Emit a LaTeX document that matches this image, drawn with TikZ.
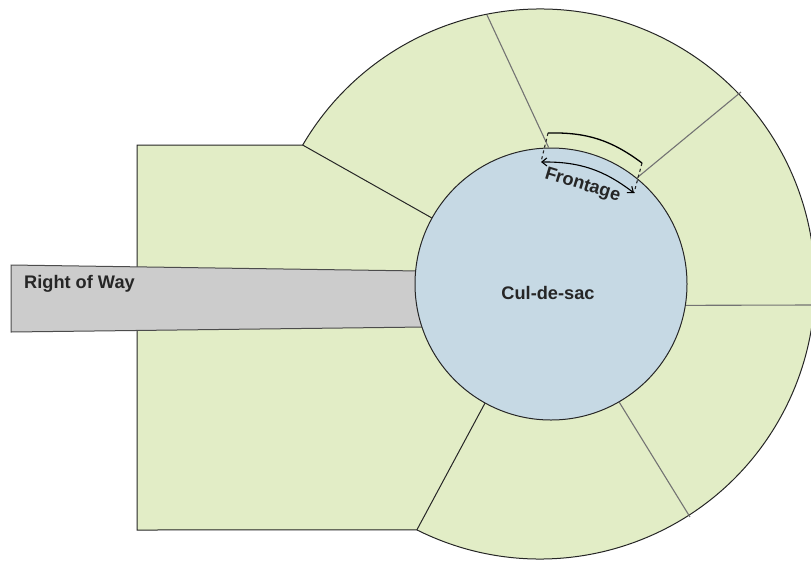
\documentclass[tikz,border=0pt]{standalone}
\usepackage{fontspec}
\setmainfont{Liberation Sans}
\usetikzlibrary{calc, arrows.meta}
\definecolor{lotgreen}{HTML}{E2EDC6}
\definecolor{sacblue}{HTML}{C6D9E4}
\definecolor{waygray}{HTML}{CCCCCC}
\definecolor{inkdark}{HTML}{262626}
\begin{document}
\begin{tikzpicture}[x=1pt, y=1pt,
lotline/.style = {draw=inkdark, line width=1pt},
sideline/.style = {draw=black!55, line width=1.1pt},
label/.style = {font=\bfseries\fontsize{18.2}{20}\selectfont, text=inkdark, inner sep=0pt}]
\useasboundingbox (0,0) rectangle (811,-560);
\clip (0,0) rectangle (811,-560);
\coordinate (hub) at (540,-284);
\coordinate (lotnw) at ($(hub)+(149.65:275)$);
\coordinate (lotsw) at ($(hub)+(243.4:275)$);
% lots
\path[lotline, fill=lotgreen] (137,-145) -- (lotnw)
  arc[start angle=149.65, end angle=-116.6, radius=275] -- (137,-530) -- cycle;
% right of way
\path[draw=black!70, line width=1pt, fill=waygray] (11,-265) -- (420,-271) -- (425,-327) -- (11,-332) -- cycle;
\node[label, anchor=west] (way) at (24,-284) {Right of Way};
% cul-de-sac
\node[circle, lotline, fill=sacblue, minimum size=272pt, inner sep=0pt] (sac) at (551,-284) {};
\node[label] (sacname) at (548,-292.5) {Cul-de-sac};
% lot lines
\coordinate (outa) at (487,-15);
\coordinate (outb) at (741,-92);
\coordinate (outc) at (811,-305);
\coordinate (outd) at (690,-517);
\draw[lotline] (lotnw) -- (sac.151);
\draw[lotline] (lotsw) -- (sac.241);
\draw[sideline] (outa) -- (sac.91);
\draw[sideline] (outb) -- (sac.51);
\draw[sideline] (outc) -- (sac.-9);
\draw[sideline] (outd) -- (sac.-60);
% frontage
\coordinate (fronta) at (548,-133);
\coordinate (frontb) at (642,-163);
\coordinate (arrowa) at (541,-162);
\coordinate (arrowb) at (634,-193);
\draw[lotline, dashed, line width=1.1pt] (fronta) -- (arrowa);
\draw[lotline, dashed, line width=1.1pt] (frontb) -- (arrowb);
\draw[black, line width=1.3pt] (fronta) to[bend left=19] (frontb);
\draw[black, line width=1.1pt, {Straight Barb[length=5pt,width=8pt]}-{Straight Barb[length=5pt,width=8pt]}] (arrowa) to[bend left=19] (arrowb);
\node[label, rotate=-17] (frontage) at (582.5,-185.5) {Frontage};
\end{tikzpicture}
\end{document}
